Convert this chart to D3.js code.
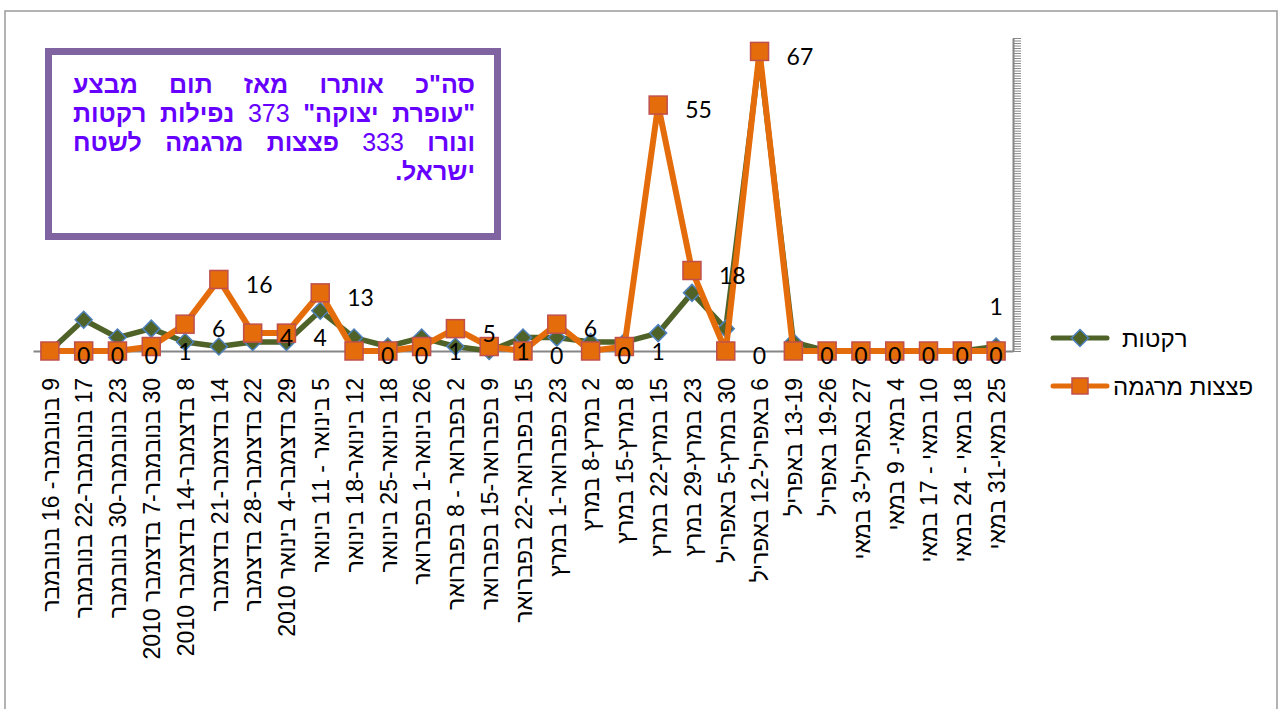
<!DOCTYPE html>
<html><head><meta charset="utf-8">
<script src="https://cdn.jsdelivr.net/npm/d3@7"></script>
<style>body{margin:0;background:#fff;overflow:hidden} svg{display:block}</style>
</head><body>
<svg id="c" width="1282" height="709"></svg>
<script>
const categories = [
  "9 בנובמבר- 16 בנובמבר",
  "17 בנובמבר-22 בנובמבר",
  "23 בנובמבר-30 בנובמבר",
  "30 בנובמבר-7 בדצמבר 2010",
  "8 בדצמבר-14 בדצמבר 2010",
  "14 בדצמבר-21 בדצמבר",
  "22 בדצמבר-28 בדצמבר",
  "29 בדצמבר-4 בינואר 2010",
  "5  בינואר - 11 בינואר",
  "12 בינואר-18 בינואר",
  "18 בינואר-25 בינואר",
  "26 בינואר-1 בפברואר",
  "2 בפברואר - 8 בפברואר",
  "9 בפברואר-15 בפברואר",
  "15 בפברואר-22 בפברואר",
  "23 בפברואר-1 במרץ",
  "2 במרץ-8 במרץ",
  "8 במרץ-15 במרץ",
  "15 במרץ-22 במרץ",
  "23 במרץ-29 במרץ",
  "30 במרץ-5 באפריל",
  "6 באפריל-12 באפריל",
  "13-19 באפריל",
  "19-26 באפריל",
  "27 באפריל-3 במאי",
  "4 במאי- 9 במאי",
  "10 במאי - 17 במאי",
  "18 במאי - 24 במאי",
  "25 במאי-31 במאי"
];
const rockets = [0,7,3,5,2,1,2,2,9,3,1,3,1,0,3,3,2,2,4,13,5,66,2,0,0,0,0,0,1];
const mortars = [0,0,0,1,6,16,4,4,13,0,0,1,5,1,0,6,0,1,55,18,0,67,0,0,0,0,0,0,0];
const pointLabels = ["0","0","0","1","6","16","4","4","13","0","0","1","5","1","0","6","0","1","55","18","0","67","0","0","0","0","0","0","1"];
const seriesNames = ["רקטות","פצצות מרגמה"];
const noteLines = [
  ['סה"כ','אותרו','מאז','תום','מבצע'],
  ['"עופרת','יצוקה"','373','נפילות','רקטות'],
  ['ונורו','333','פצצות','מרגמה','לשטח'],
  ['ישראל.']
];

const svg = d3.select("#c");
const GREEN = "#4F6228", BLUE = "#4F81BD", ORANGE = "#E46C0A", RED = "#C0504D", AXIS = "#868686";

// outer chart border
svg.append("rect").attr("x",5).attr("y",11).attr("width",1272).attr("height",720)
  .attr("fill","#fff").attr("stroke","#9a9a9a").attr("stroke-width",1.5);

const x = d3.scalePoint().domain(d3.range(categories.length)).range([33,1013]).padding(0.5);
const y = d3.scaleLinear().domain([0,70]).range([351,38]);
const yR = d3.scaleLinear().domain([0,1]).range([351,38]);

// x axis
const xAxis = svg.append("g").attr("transform","translate(0,351)")
  .call(d3.axisBottom(x).tickSize(0).tickSizeOuter(0).tickFormat(i=>categories[i]));
xAxis.select(".domain").attr("stroke",AXIS).attr("stroke-width",2);
xAxis.selectAll(".tick text")
  .attr("y",0).attr("dy","0.36em").attr("x",0)
  .attr("transform","translate(0,27) rotate(-90)")
  .attr("text-anchor","start").attr("direction","rtl")
  .style("font-family","'Liberation Sans', Arial, sans-serif").style("font-size","23px").attr("fill","#000");

// right (secondary) axis with dense ticks
const rAxis = svg.append("g").attr("transform","translate(1013,0)")
  .call(d3.axisRight(yR).tickValues(d3.range(0,1.0001,0.008)).tickSize(8).tickSizeOuter(0).tickFormat(""));
rAxis.select(".domain").attr("stroke",AXIS).attr("stroke-width",2);
rAxis.selectAll(".tick line").attr("stroke",AXIS).attr("stroke-width",1);

const line = d3.line().x((d,i)=>x(i)).y(d=>y(d));
const diamond = r => `M0,${-r}L${r},0L0,${r}L${-r},0Z`;

// rockets
svg.append("path").datum(rockets).attr("d",line).attr("fill","none")
  .attr("stroke",GREEN).attr("stroke-width",5.5).attr("stroke-linejoin","round");
svg.append("g").selectAll("path").data(rockets).join("path")
  .attr("transform",(d,i)=>`translate(${x(i)},${y(d)})`).attr("d",diamond(8.5))
  .attr("fill",GREEN).attr("stroke",BLUE).attr("stroke-width",1.5);

// mortars
svg.append("path").datum(mortars).attr("d",line).attr("fill","none")
  .attr("stroke",ORANGE).attr("stroke-width",6).attr("stroke-linejoin","round");
svg.append("g").selectAll("rect").data(mortars).join("rect")
  .attr("x",(d,i)=>x(i)-9).attr("y",d=>y(d)-9).attr("width",18).attr("height",18)
  .attr("fill",ORANGE).attr("stroke",RED).attr("stroke-width",1.5);

// data labels
const last = pointLabels.length-1;
svg.append("g").selectAll("text").data(pointLabels).join("text")
  .attr("x",(d,i)=> i===last ? x(i) : x(i)+27)
  .attr("y",(d,i)=> i===last ? y(mortars[i])-44 : y(mortars[i])+5)
  .attr("dy","0.36em")
  .attr("text-anchor",(d,i)=> i===last ? "middle" : "start")
  .style("font-family","Lato, 'Open Sans', sans-serif").style("font-size","23px")
  .attr("fill","#000").text(d=>d);

// legend
const leg = svg.append("g");
const legY = [338,386];
const legTextX = [1122,1113];
seriesNames.forEach((name,k)=>{
  const g = leg.append("g").attr("transform",`translate(0,${legY[k]})`);
  g.append("line").attr("x1",1053).attr("x2",1107).attr("stroke",k?ORANGE:GREEN).attr("stroke-width",5).attr("stroke-linecap","round");
  if(k===0) g.append("path").attr("transform","translate(1080,0)").attr("d",diamond(8.5)).attr("fill",GREEN).attr("stroke",BLUE).attr("stroke-width",1.5);
  else g.append("rect").attr("x",1072).attr("y",-8).attr("width",16).attr("height",16).attr("fill",ORANGE).attr("stroke",RED).attr("stroke-width",1.5);
  g.append("text").attr("x",legTextX[k]).attr("y",9).attr("text-anchor","start")
    .style("font-family","'Liberation Sans', Arial, sans-serif").style("font-size","24px").attr("fill","#000").text(name);
});

// note box
svg.append("rect").attr("x",48.5).attr("y",51.5).attr("width",449).attr("height",185)
  .attr("fill","#fff").attr("stroke","#8064A2").attr("stroke-width",7);
const note = svg.append("g").style("font-family","'Liberation Sans', Arial, sans-serif")
  .style("font-size","25px").attr("fill","#6600FF");
const R = 475, L = 73, baseY = 93, lh = 29;
noteLines.forEach((words,li)=>{
  const els = words.map(w=>note.append("text").attr("y",baseY+li*lh).attr("text-anchor","middle")
    .attr("direction","rtl").style("font-weight",/^\d+$/.test(w)?"normal":"bold").text(w));
  const widths = els.map(e=>e.node().getComputedTextLength());
  const total = d3.sum(widths);
  const gap = (li < noteLines.length-1 && words.length>1) ? (R-L-total)/(words.length-1) : 6;
  let cur = R;
  els.forEach((e,j)=>{ e.attr("x",cur-widths[j]/2); cur -= widths[j]+gap; });
});
</script>
</body></html>
